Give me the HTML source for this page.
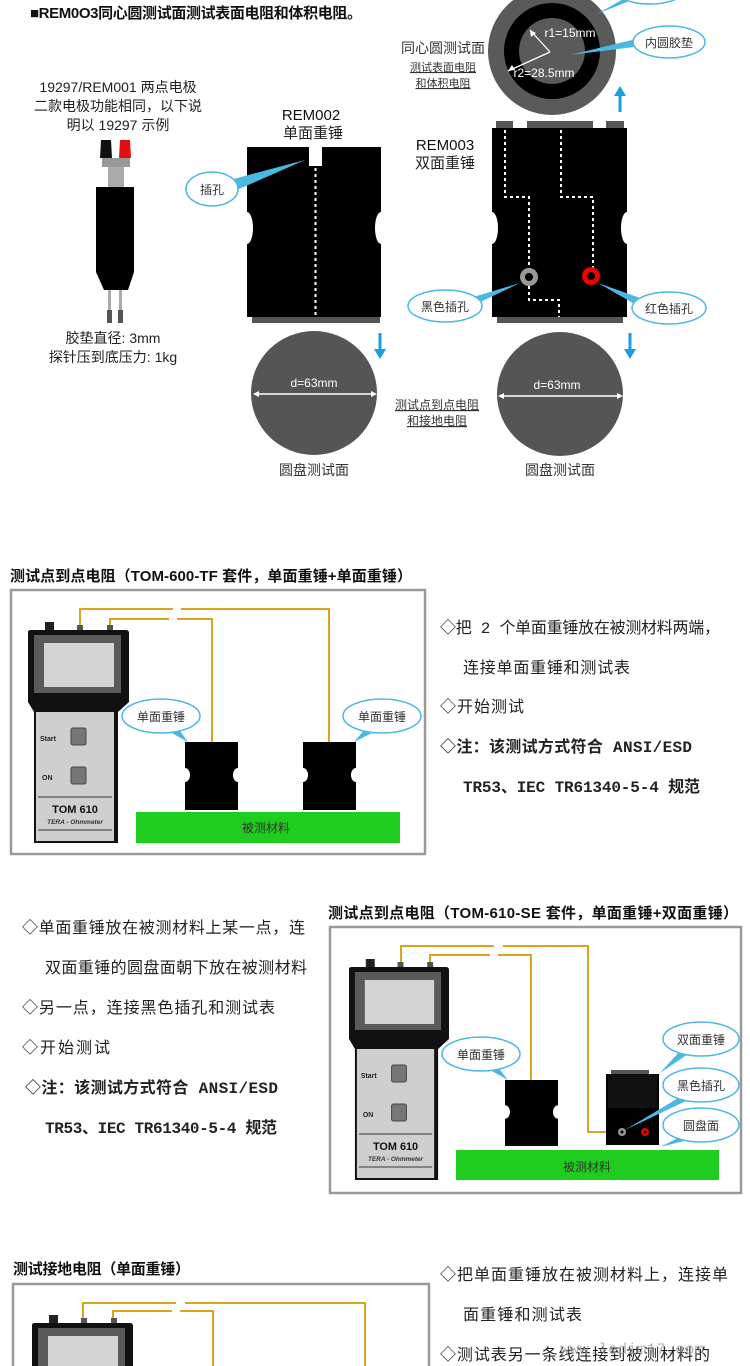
<!DOCTYPE html>
<html><head><meta charset="utf-8"><style>
html,body{margin:0;padding:0;background:#fff;overflow:hidden;width:750px;height:1366px;}
svg{display:block;font-family:"Liberation Sans","Noto Sans CJK SC",sans-serif;}
.mono{font-family:"Liberation Mono","Noto Sans CJK SC",monospace;}
</style></head><body>
<svg width="750" height="1366" viewBox="0 0 750 1366" xmlns="http://www.w3.org/2000/svg">
<defs>
<g id="meter">
  <rect x="17" y="-8" width="9" height="9" fill="#222"/>
  <rect x="49" y="-5" width="6" height="5" fill="#555"/>
  <rect x="79" y="-5" width="6" height="5" fill="#555"/>
  <path d="M0 2 Q0 0 3 0 H98 Q101 0 101 3 V72 L90 82 V213 H6 V82 L0 72 Z" fill="#111"/>
  <rect x="6" y="5" width="87" height="58" fill="#5a5a5a"/>
  <rect x="16" y="13" width="70" height="44" fill="#d4d4d4"/>
  <rect x="8" y="82" width="78" height="129" fill="#cfcfcf"/>
  <circle cx="66" cy="79" r="2" fill="#111"/>
  <text x="12" y="111" font-size="7" font-weight="bold" fill="#222">Start</text>
  <rect x="43" y="98" width="15" height="17" rx="2" fill="#777" stroke="#444"/>
  <text x="14" y="150" font-size="7" font-weight="bold" fill="#222">ON</text>
  <rect x="43" y="137" width="15" height="17" rx="2" fill="#777" stroke="#444"/>
  <line x1="10" y1="167" x2="84" y2="167" stroke="#555" stroke-width="1.2"/>
  <text x="47" y="183" font-size="11" font-weight="bold" text-anchor="middle" fill="#111">TOM 610</text>
  <text x="47" y="194" font-size="6.5" font-weight="bold" font-style="italic" text-anchor="middle" fill="#333">TERA - Ohmmeter</text>
  <line x1="10" y1="200" x2="84" y2="200" stroke="#555" stroke-width="1.2"/>
</g>
<g id="wt">
  <path d="M0 0 H53 V26 A5 7 0 0 0 53 40 V68 H0 V40 A5 7 0 0 0 0 26 Z" fill="#000"/>
</g>
</defs>

<text x="30" y="18" font-size="15" font-weight="bold" fill="#111" textLength="332">■REM0O3同心圆测试面测试表面电阻和体积电阻。</text>

<g font-size="14" fill="#222" text-anchor="middle">
<text x="118" y="92">19297/REM001 两点电极</text>
<text x="118" y="111">二款电极功能相同，以下说</text>
<text x="118" y="130">明以 19297 示例</text>
<text x="113" y="343">胶垫直径: 3mm</text>
<text x="113" y="362">探针压到底压力: 1kg</text>
</g>
<path d="M101 140 h10 l1 18 h-12 z" fill="#111"/>
<path d="M120 140 h10 l1 18 h-12 z" fill="#e01010"/>
<rect x="102" y="158" width="28" height="9" fill="#999"/>
<rect x="108" y="167" width="16" height="20" fill="#aaa"/>
<rect x="96" y="187" width="38" height="85" fill="#000"/>
<path d="M96 272 H134 L128 290 H104 Z" fill="#000"/>
<rect x="108" y="290" width="3" height="26" fill="#aaa"/>
<rect x="119" y="290" width="3" height="26" fill="#aaa"/>
<rect x="107" y="310" width="5" height="13" fill="#555"/>
<rect x="118" y="310" width="5" height="13" fill="#555"/>

<text x="311" y="120" font-size="15" text-anchor="middle" fill="#111">REM002</text>
<text x="313" y="138" font-size="15" text-anchor="middle" fill="#222">单面重锤</text>
<path d="M247 147 H381 V212 A6 16 0 0 0 381 244 V317 H247 V244 A6 16 0 0 0 247 212 Z" fill="#000"/>
<rect x="252" y="317" width="128" height="6" fill="#555"/>
<rect x="309" y="147" width="13" height="19" fill="#fff"/>
<line x1="315.5" y1="168" x2="315.5" y2="317" stroke="#fff" stroke-width="2" stroke-dasharray="3 3"/>
<path d="M226 181 L305 160 L230 193 Z" fill="#4ab8e0"/>
<ellipse cx="212" cy="189" rx="26" ry="17" fill="#fff" stroke="#4ab8e0" stroke-width="1.5"/>
<text x="212" y="194" font-size="12" text-anchor="middle" fill="#333">插孔</text>

<path d="M380 333 V352" stroke="#1a9ee0" stroke-width="3"/>
<path d="M374 349 L380 359 L386 349 Z" fill="#1a9ee0"/>
<ellipse cx="314" cy="393" rx="63" ry="62" fill="#555"/>
<line x1="256" y1="394" x2="374" y2="394" stroke="#fff" stroke-width="1.5"/>
<path d="M253 394 l6 -3 v6 z M377 394 l-6 -3 v6 z" fill="#fff"/>
<text x="314" y="387" font-size="12" text-anchor="middle" fill="#fff">d=63mm</text>
<text x="314" y="475" font-size="14" text-anchor="middle" fill="#333">圆盘测试面</text>
<text x="437" y="409" font-size="12" text-anchor="middle" fill="#333" text-decoration="underline">测试点到点电阻</text>
<text x="437" y="425" font-size="12" text-anchor="middle" fill="#333" text-decoration="underline">和接地电阻</text>

<circle cx="552" cy="51" r="64" fill="#5a5a5a"/>
<circle cx="552" cy="51" r="48" fill="#000"/>
<circle cx="552" cy="51" r="33" fill="#5a5a5a"/>
<path d="M550 52 L530 30 M550 52 L508 71" stroke="#fff" stroke-width="1.3"/>
<path d="M530 30 l1 7 l5 -4 z M508 71 l7 -1 l-3 -5 z" fill="#fff"/>
<text x="570" y="37" font-size="12" text-anchor="middle" fill="#fff">r1=15mm</text>
<text x="544" y="77" font-size="12" text-anchor="middle" fill="#fff">r2=28.5mm</text>
<path d="M570 55 L640 38 L642 46 Z" fill="#4ab8e0"/>
<ellipse cx="669" cy="42" rx="36" ry="16" fill="#fff" stroke="#4ab8e0" stroke-width="1.5"/>
<text x="669" y="47" font-size="12" text-anchor="middle" fill="#333">内圆胶垫</text>
<path d="M597 14 L625 -2 L632 0 Z" fill="#4ab8e0"/>
<ellipse cx="650" cy="-6" rx="30" ry="10" fill="#fff" stroke="#4ab8e0" stroke-width="1.5"/>
<text x="443" y="53" font-size="14" text-anchor="middle" fill="#333">同心圆测试面</text>
<text x="443" y="71" font-size="11" text-anchor="middle" fill="#333" text-decoration="underline">测试表面电阻</text>
<text x="443" y="87" font-size="11" text-anchor="middle" fill="#333" text-decoration="underline">和体积电阻</text>
<path d="M620 95 V112" stroke="#1a9ee0" stroke-width="3"/>
<path d="M614 96 L620 86 L626 96 Z" fill="#1a9ee0"/>

<text x="445" y="150" font-size="15" text-anchor="middle" fill="#111">REM003</text>
<text x="445" y="168" font-size="15" text-anchor="middle" fill="#222">双面重锤</text>
<rect x="496" y="121" width="17" height="8" fill="#555"/>
<rect x="527" y="121" width="66" height="8" fill="#555"/>
<rect x="606" y="121" width="18" height="8" fill="#555"/>
<path d="M492 128 H627 V212 A6 16 0 0 0 627 244 V317 H492 V244 A6 16 0 0 0 492 212 Z" fill="#000"/>
<rect x="497" y="317" width="126" height="6" fill="#555"/>
<g stroke="#fff" stroke-width="2" stroke-dasharray="3 3" fill="none">
<path d="M505 130 V197 H529 V300 H559 V317"/>
<path d="M561 130 V197 H593 V268"/>
</g>
<circle cx="529" cy="277" r="9" fill="#999"/><circle cx="529" cy="277" r="4" fill="#000"/>
<circle cx="591" cy="276" r="9" fill="#e00"/><circle cx="591" cy="276" r="4" fill="#000"/>
<path d="M470 298 L520 283 L472 306 Z" fill="#4ab8e0"/>
<ellipse cx="445" cy="306" rx="37" ry="16" fill="#fff" stroke="#4ab8e0" stroke-width="1.5"/>
<text x="445" y="311" font-size="12" text-anchor="middle" fill="#333">黑色插孔</text>
<path d="M643 299 L598 283 L640 307 Z" fill="#4ab8e0"/>
<ellipse cx="669" cy="308" rx="37" ry="16" fill="#fff" stroke="#4ab8e0" stroke-width="1.5"/>
<text x="669" y="313" font-size="12" text-anchor="middle" fill="#333">红色插孔</text>
<path d="M630 333 V352" stroke="#1a9ee0" stroke-width="3"/>
<path d="M624 349 L630 359 L636 349 Z" fill="#1a9ee0"/>
<ellipse cx="560" cy="394" rx="63" ry="62" fill="#555"/>
<line x1="501" y1="396" x2="620" y2="396" stroke="#fff" stroke-width="1.5"/>
<path d="M498 396 l6 -3 v6 z M623 396 l-6 -3 v6 z" fill="#fff"/>
<text x="557" y="389" font-size="12" text-anchor="middle" fill="#fff">d=63mm</text>
<text x="560" y="475" font-size="14" text-anchor="middle" fill="#333">圆盘测试面</text>

<!-- Section 2 -->
<text x="10" y="581" font-size="15" font-weight="bold" fill="#111" textLength="402">测试点到点电阻（TOM-600-TF 套件，单面重锤+单面重锤）</text>
<rect x="11" y="590" width="414" height="264" fill="#fff" stroke="#999" stroke-width="2.5"/>
<g fill="none" stroke="#d9a520" stroke-width="2">
<path d="M80 628 V609 H173 M181 609 H329 V742"/>
<path d="M110 628 V619 H169 M177 619 H212 V742"/>
</g>
<use href="#meter" transform="translate(28,630)"/>
<use href="#wt" transform="translate(185,742)"/>
<use href="#wt" transform="translate(303,742)"/>
<rect x="136" y="812" width="264" height="31" fill="#1fcd1f"/>
<text x="266" y="832" font-size="12" text-anchor="middle" fill="#333">被测材料</text>
<path d="M178 728 L188 742 L170 732 Z" fill="#4ab8e0"/>
<ellipse cx="161" cy="716" rx="39" ry="17" fill="#fff" stroke="#4ab8e0" stroke-width="1.5"/>
<text x="161" y="721" font-size="12" text-anchor="middle" fill="#333">单面重锤</text>
<path d="M366 728 L354 742 L374 732 Z" fill="#4ab8e0"/>
<ellipse cx="382" cy="716" rx="39" ry="17" fill="#fff" stroke="#4ab8e0" stroke-width="1.5"/>
<text x="382" y="721" font-size="12" text-anchor="middle" fill="#333">单面重锤</text>
<g font-size="16" fill="#222" class="mono">
<text x="440" y="633" textLength="280">◇把 2 个单面重锤放在被测材料两端，</text>
<text x="463" y="673" textLength="167">连接单面重锤和测试表</text>
<text x="440" y="712" textLength="84">◇开始测试</text>
<text x="440" y="752" font-weight="bold" textLength="252">◇注：该测试方式符合 ANSI/ESD</text>
<text x="463" y="792" font-weight="bold" textLength="237">TR53、IEC TR61340-5-4 规范</text>
</g>

<!-- Section 3 -->
<g font-size="16" fill="#222" class="mono">
<text x="22" y="933" textLength="283">◇单面重锤放在被测材料上某一点，连</text>
<text x="45" y="973" textLength="262">双面重锤的圆盘面朝下放在被测材料</text>
<text x="22" y="1013" textLength="253">◇另一点，连接黑色插孔和测试表</text>
<text x="22" y="1053" textLength="88">◇开始测试</text>
<text x="25" y="1093" font-weight="bold" textLength="253">◇注：该测试方式符合 ANSI/ESD</text>
<text x="45" y="1133" font-weight="bold" textLength="232">TR53、IEC TR61340-5-4 规范</text>
</g>
<text x="328" y="918" font-size="15" font-weight="bold" fill="#111" textLength="410">测试点到点电阻（TOM-610-SE 套件，单面重锤+双面重锤）</text>
<rect x="330" y="927" width="411" height="266" fill="#fff" stroke="#999" stroke-width="2.5"/>
<g fill="none" stroke="#d9a520" stroke-width="2">
<path d="M401 965 V946 H494 M503 946 H588 V1132 H616"/>
<path d="M430 965 V955 H490 M498 955 H531 V1081"/>
</g>
<use href="#meter" transform="translate(349,967) scale(0.99,1)"/>
<use href="#wt" transform="translate(505,1080) scale(1,0.97)"/>
<rect x="611" y="1070" width="38" height="4" fill="#555"/>
<path d="M606 1074 H659 V1145 H606 Z" fill="#000"/>
<rect x="608" y="1074" width="49" height="34" fill="#111"/>
<circle cx="622" cy="1132" r="4" fill="#999"/><circle cx="622" cy="1132" r="1.5" fill="#000"/>
<circle cx="645" cy="1132" r="4" fill="#e00"/><circle cx="645" cy="1132" r="1.5" fill="#000"/>
<rect x="456" y="1150" width="263" height="30" fill="#1fcd1f"/>
<text x="587" y="1171" font-size="12" text-anchor="middle" fill="#333">被测材料</text>
<path d="M497 1066 L508 1080 L490 1070 Z" fill="#4ab8e0"/>
<ellipse cx="481" cy="1054" rx="39" ry="17" fill="#fff" stroke="#4ab8e0" stroke-width="1.5"/>
<text x="481" y="1059" font-size="12" text-anchor="middle" fill="#333">单面重锤</text>
<path d="M680 1051 L660 1073 L688 1054 Z" fill="#4ab8e0"/>
<path d="M680 1097 L625 1130 L688 1100 Z" fill="#4ab8e0"/>
<path d="M680 1137 L660 1147 L688 1140 Z" fill="#4ab8e0"/>
<ellipse cx="701" cy="1039" rx="38" ry="17" fill="#fff" stroke="#4ab8e0" stroke-width="1.5"/>
<text x="701" y="1044" font-size="12" text-anchor="middle" fill="#333">双面重锤</text>
<ellipse cx="701" cy="1085" rx="38" ry="17" fill="#fff" stroke="#4ab8e0" stroke-width="1.5"/>
<text x="701" y="1090" font-size="12" text-anchor="middle" fill="#333">黑色插孔</text>
<ellipse cx="701" cy="1125" rx="38" ry="17" fill="#fff" stroke="#4ab8e0" stroke-width="1.5"/>
<text x="701" y="1130" font-size="12" text-anchor="middle" fill="#333">圆盘面</text>

<!-- Section 4 -->
<text x="13" y="1274" font-size="15" font-weight="bold" fill="#111" textLength="177">测试接地电阻（单面重锤）</text>
<rect x="13" y="1284" width="416" height="100" fill="#fff" stroke="#999" stroke-width="2.5"/>
<g fill="none" stroke="#d9a520" stroke-width="2">
<path d="M83 1321 V1303 H176 M185 1303 H365 V1366"/>
<path d="M113 1321 V1311 H172 M180 1311 H213 V1366"/>
</g>
<use href="#meter" transform="translate(32,1323)"/>
<g font-size="16" fill="#222" class="mono">
<text x="440" y="1280" textLength="288">◇把单面重锤放在被测材料上，连接单</text>
<text x="463" y="1320" textLength="119">面重锤和测试表</text>
<text x="440" y="1360" textLength="270">◇测试表另一条线连接到被测材料的</text>
</g>
<text x="560" y="1354" font-size="16" fill="#999" opacity="0.7" class="mono">www.ledim17.com</text>
</svg>
</body></html>
